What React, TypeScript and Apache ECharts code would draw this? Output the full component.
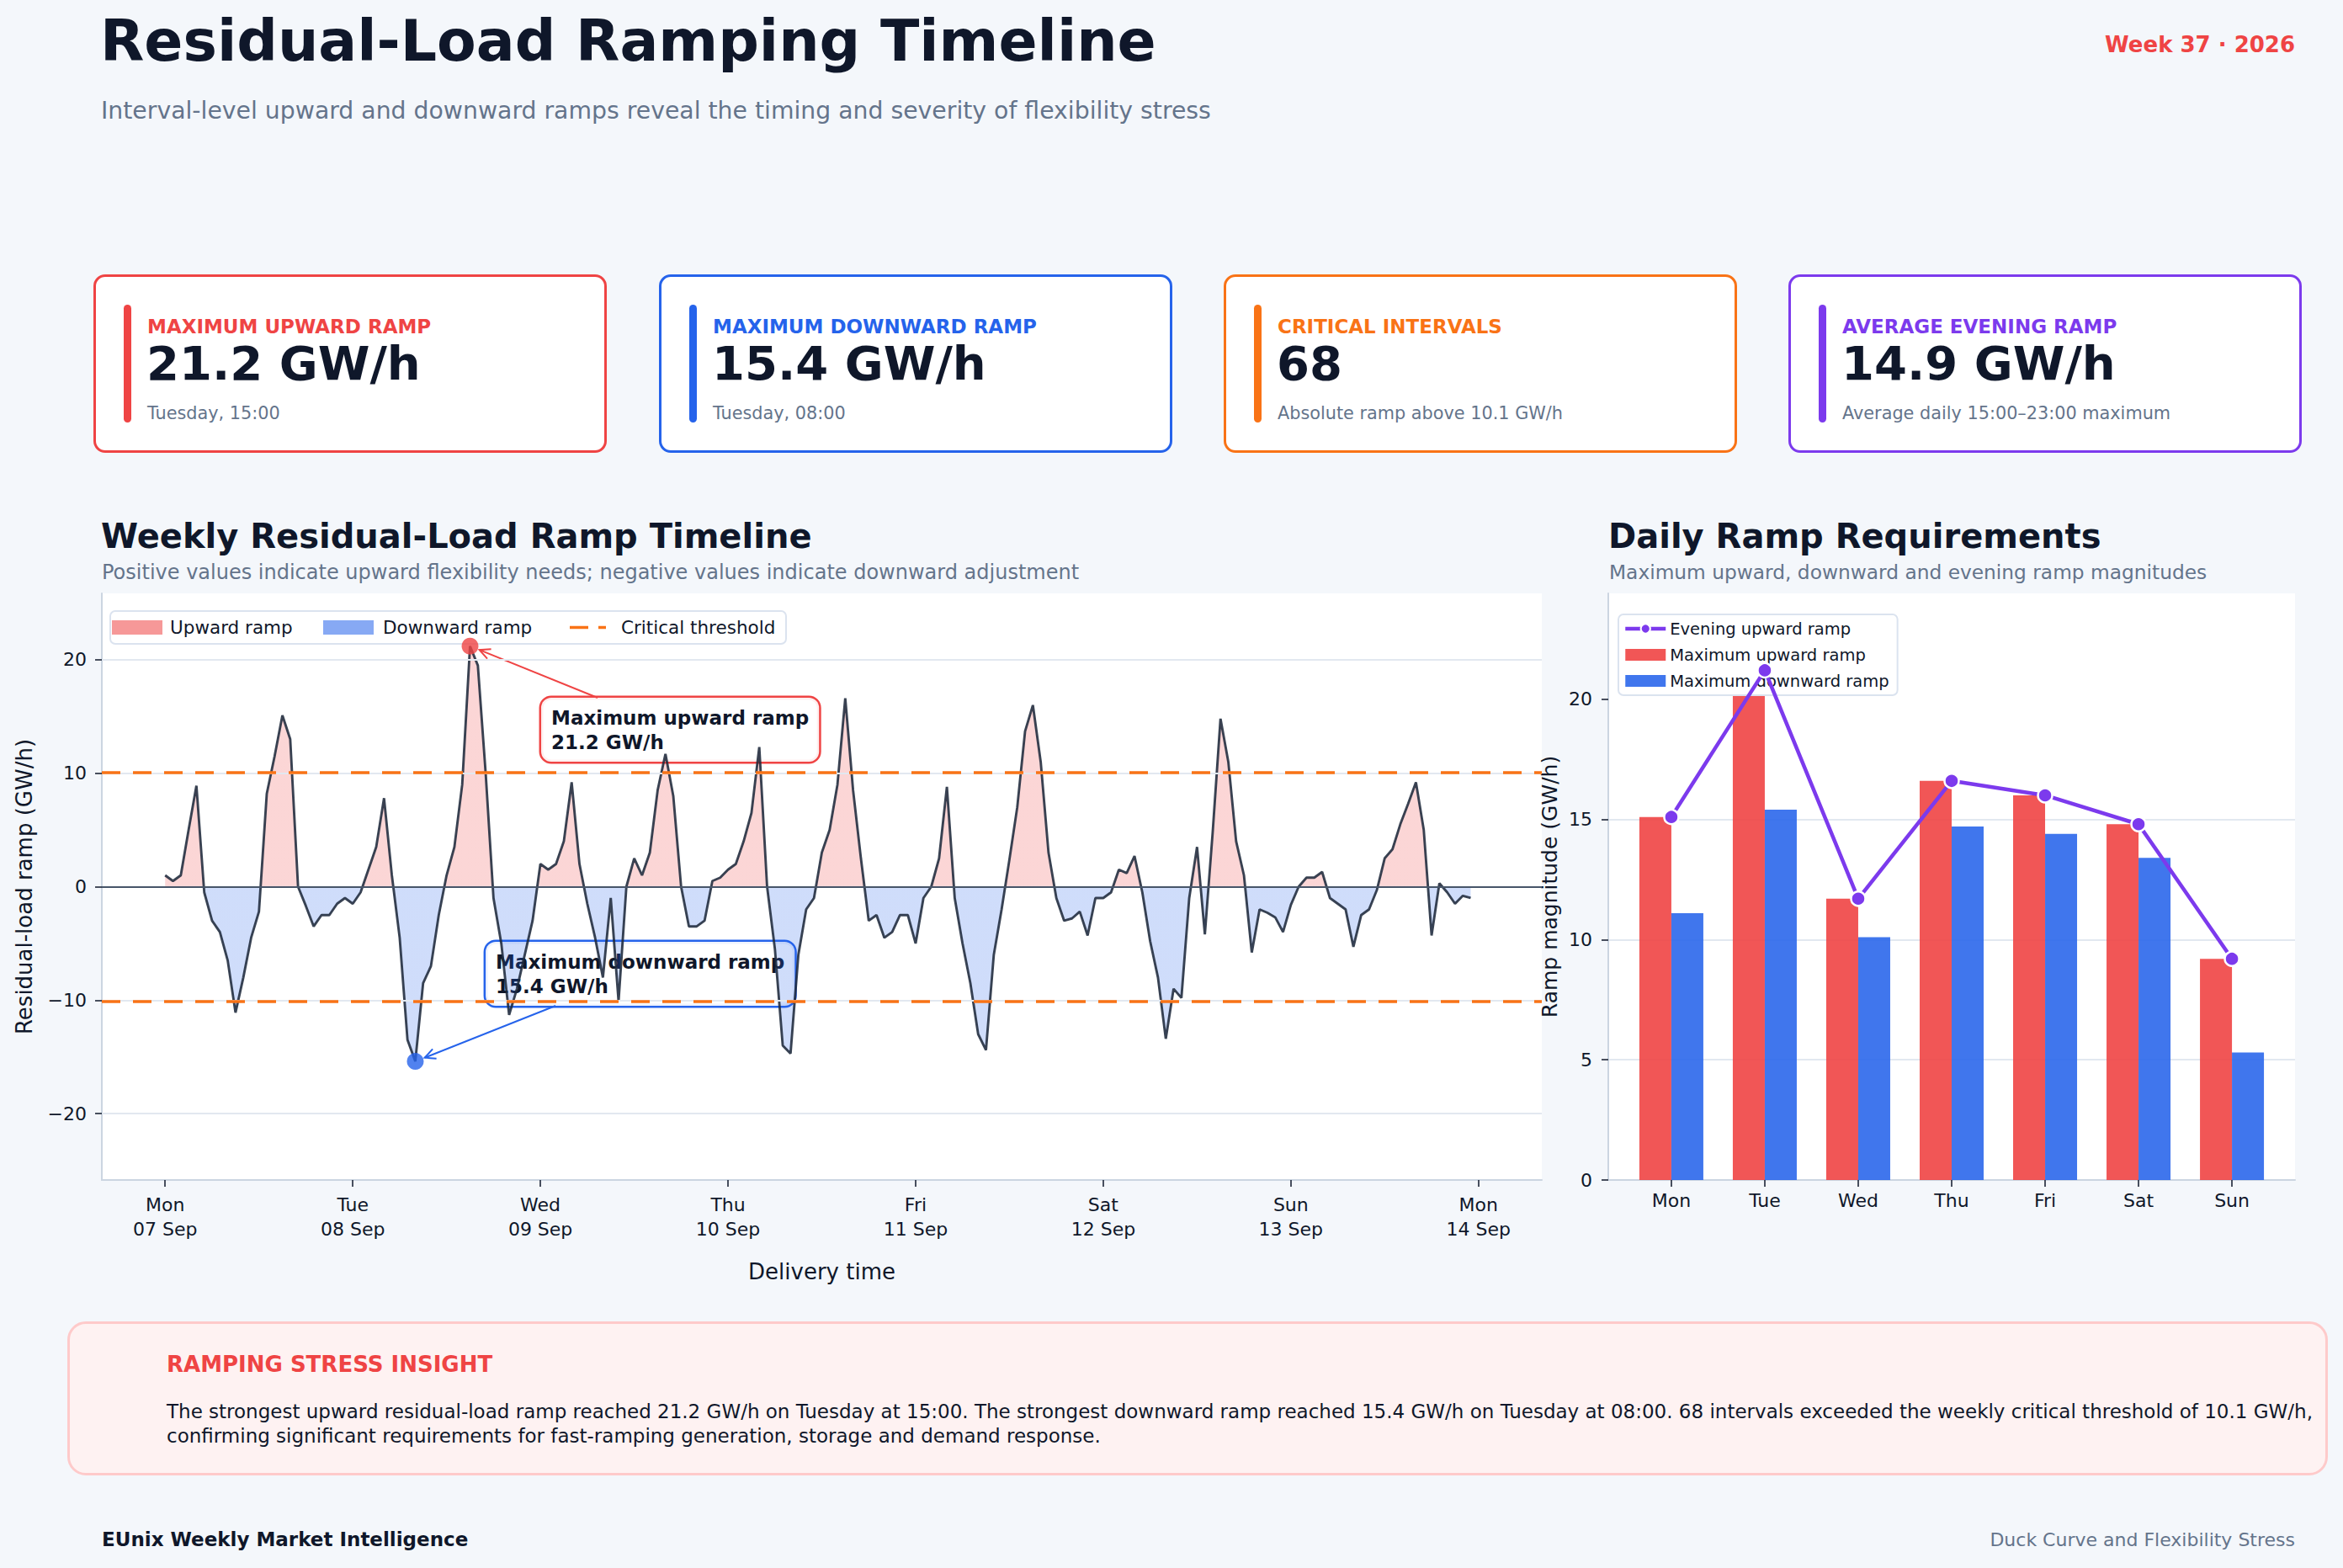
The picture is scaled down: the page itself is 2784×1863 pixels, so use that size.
import React, { useEffect, useRef } from "react";
import * as echarts from "echarts";

// ---------- data ----------
const dayLabels = ["Mon", "Tue", "Wed", "Thu", "Fri", "Sat", "Sun", "Mon"];
const dateLabels = ["07 Sep", "08 Sep", "09 Sep", "10 Sep", "11 Sep", "12 Sep", "13 Sep", "14 Sep"];
const dayTickHours = [0, 24, 48, 72, 96, 120, 144, 168];

// hourly residual-load ramp (GW/h)
const monRamp = [1.0, 0.5, 1.0, 5.0, 8.9, -0.5, -3.0, -4.0, -6.5, -11.1, -8.0, -4.5, -2.2, 8.2, 11.5, 15.1, 13.0, 0.0, -1.7, -3.5, -2.5, -2.5, -1.5, -1.0];
const tueRamp = [-1.5, -0.5, 1.5, 3.5, 7.8, 1.0, -4.5, -13.5, -15.4, -8.5, -7.0, -2.5, 1.0, 3.5, 9.0, 21.2, 19.5, 10.0, -1.0, -5.0, -11.3, -9.0, -6.0, -3.0];
const wedRamp = [2.0, 1.5, 2.0, 4.0, 9.2, 2.0, -1.5, -4.5, -8.0, -1.0, -10.1, 0.0, 2.5, 1.0, 3.0, 8.5, 11.7, 8.0, 0.0, -3.5, -3.5, -3.0, 0.5, 0.8];
const thuRamp = [1.5, 2.0, 4.0, 6.5, 12.3, 0.0, -5.5, -14.0, -14.7, -6.0, -2.0, -1.0, 3.0, 5.0, 9.0, 16.6, 8.5, 2.5, -3.0, -2.5, -4.5, -4.0, -2.5, -2.5];
const friRamp = [-5.0, -1.0, 0.0, 2.5, 8.8, -1.0, -5.0, -8.5, -13.0, -14.4, -6.0, -2.0, 2.4, 7.0, 13.7, 16.0, 11.0, 3.0, -1.0, -3.0, -2.8, -2.2, -4.3, -1.0];
const satRamp = [-1.0, -0.5, 1.5, 1.2, 2.7, -0.5, -4.8, -8.0, -13.4, -9.0, -9.8, -1.0, 3.5, -4.2, 4.8, 14.8, 11.0, 4.0, 1.0, -5.8, -2.0, -2.3, -2.7, -4.0];
const sunRamp = [-1.6, 0.0, 0.8, 0.8, 1.3, -1.0, -1.5, -2.0, -5.3, -2.5, -2.0, -0.3, 2.5, 3.3, 5.5, 7.3, 9.2, 5.0, -4.3, 0.3, -0.5, -1.5, -0.8, -1.0];

const criticalThreshold = 10.1;
const timelineTicks = [-20, -10, 0, 10, 20];

const dailyDays = ["Mon", "Tue", "Wed", "Thu", "Fri", "Sat", "Sun"];
const dailyPositions = [0, 1, 2, 3, 4, 5, 6];
const maxUpward = [15.1, 21.2, 11.7, 16.6, 16.0, 14.8, 9.2];
const maxDownward = [11.1, 15.4, 10.1, 14.7, 14.4, 13.4, 5.3];
const eveningRamp = [15.1, 21.2, 11.7, 16.6, 16.0, 14.8, 9.2];
const dailyTicks = [0, 5, 10, 15, 20];

// annotation text-box anchors (top-left, data units)
const upAnnot = { h: 48.1, v: 16.65 };
const downAnnot = { h: 41.0, v: -4.86 };

const FONT = "'DejaVu Sans', Verdana, sans-serif";
const DARK = "#0f172a";
const MUTED = "#64748b";

const ramp = [...monRamp, ...tueRamp, ...wedRamp, ...thuRamp, ...friRamp, ...satRamp, ...sunRamp];

const minusFmt = (v: number) => (v < 0 ? `\u2212${Math.abs(v)}` : `${v}`);

function Card(props: { left: number; color: string; label: string; value: string; sub: string }) {
  const { left, color, label, value, sub } = props;
  return (
    <div
      style={{
        position: "absolute",
        left,
        top: 326,
        width: 610,
        height: 212,
        boxSizing: "border-box",
        border: `3px solid ${color}`,
        borderRadius: 14,
        background: "#ffffff",
      }}
    >
      <div style={{ position: "absolute", left: 33, top: 33, width: 9, height: 140, borderRadius: 5, background: color }} />
      <div style={{ position: "absolute", left: 61, top: 48, fontSize: 23, lineHeight: "23px", fontWeight: 700, color, whiteSpace: "nowrap" }}>
        {label}
      </div>
      <div style={{ position: "absolute", left: 60, top: 75, fontSize: 56, lineHeight: "56px", fontWeight: 700, color: DARK, whiteSpace: "nowrap" }}>
        {value}
      </div>
      <div style={{ position: "absolute", left: 61, top: 152, fontSize: 20.8, lineHeight: "21px", color: MUTED, whiteSpace: "nowrap" }}>
        {sub}
      </div>
    </div>
  );
}

export default function App() {
  const ref = useRef<HTMLDivElement>(null);

  useEffect(() => {
    if (!ref.current) return;
    const chart = echarts.init(ref.current, undefined, { renderer: "svg" });

    const rampData = ramp.map((v, i) => [i, v]);
    let maxI = 0;
    let minI = 0;
    ramp.forEach((v, i) => {
      if (v > ramp[maxI]) maxI = i;
      if (v < ramp[minI]) minI = i;
    });
    const rMax = ramp[maxI];
    const rMin = ramp[minI];
    const zeroFrac = rMax / (rMax - rMin);
    const fillGradient = new echarts.graphic.LinearGradient(0, 0, 0, 1, [
      { offset: 0, color: "#ef4444" },
      { offset: zeroFrac, color: "#ef4444" },
      { offset: zeroFrac, color: "#2563eb" },
      { offset: 1, color: "#2563eb" },
    ]);

    const dashStyle = { color: "#f97316", width: 3.7, type: [22, 15] as any };
    const gridStyle = { color: "#e2e8f0", width: 2, type: "solid" };

    const option: any = {
      animation: false,
      textStyle: { fontFamily: FONT },
      grid: [
        { left: 121, top: 705, width: 1711, height: 697, show: true, backgroundColor: "#ffffff", borderWidth: 0 },
        { left: 1911, top: 705, width: 816, height: 697, show: true, backgroundColor: "#ffffff", borderWidth: 0 },
      ],
      legend: [
        {
          left: 1923,
          top: 730,
          orient: "vertical",
          itemWidth: 48,
          itemHeight: 14,
          itemGap: 9,
          padding: [6, 10, 6, 6],
          backgroundColor: "#ffffff",
          borderColor: "#dbe3ef",
          borderWidth: 2,
          borderRadius: 6,
          selectedMode: false,
          textStyle: { fontSize: 19.5, lineHeight: 22, color: DARK, fontFamily: FONT },
          data: [
            { name: "Evening upward ramp", lineStyle: { width: 4.5 } },
            { name: "Maximum upward ramp", icon: "rect" },
            { name: "Maximum downward ramp", icon: "rect" },
          ],
        },
      ],
      xAxis: [
        {
          type: "value",
          gridIndex: 0,
          min: -8.1,
          max: 176.1,
          axisLine: { show: true, onZero: false, lineStyle: { color: "#cbd5e1", width: 2 } },
          axisTick: { show: true, customValues: dayTickHours, length: 8, lineStyle: { color: DARK, width: 1.5 } },
          axisLabel: {
            customValues: dayTickHours,
            formatter: (v: number) => {
              const d = Math.round(v / 24);
              return `${dayLabels[d]}\n${dateLabels[d]}`;
            },
            fontSize: 22,
            lineHeight: 29,
            color: DARK,
            margin: 15,
          },
          splitLine: { show: false },
          name: "Delivery time",
          nameLocation: "middle",
          nameGap: 96,
          nameTextStyle: { fontSize: 26, color: DARK },
        },
        {
          type: "value",
          gridIndex: 1,
          min: -0.675,
          max: 6.675,
          axisLine: { show: true, onZero: false, lineStyle: { color: "#cbd5e1", width: 2 } },
          axisTick: { show: true, customValues: dailyPositions, length: 8, lineStyle: { color: DARK, width: 1.5 } },
          axisLabel: {
            customValues: dailyPositions,
            formatter: (v: number) => dailyDays[Math.round(v)],
            fontSize: 22,
            color: DARK,
            margin: 13,
          },
          splitLine: { show: false },
        },
      ],
      yAxis: [
        {
          type: "value",
          gridIndex: 0,
          min: -25.85,
          max: 25.85,
          splitNumber: 5,
          axisLine: { show: true, onZero: false, lineStyle: { color: "#cbd5e1", width: 2 } },
          axisTick: { show: true, customValues: timelineTicks, length: 8, lineStyle: { color: DARK, width: 1.5 } },
          axisLabel: { customValues: timelineTicks, formatter: minusFmt, fontSize: 22, color: DARK, margin: 18 },
          splitLine: { show: false },
          name: "Residual-load ramp (GW/h)",
          nameLocation: "middle",
          nameGap: 79,
          nameTextStyle: { fontSize: 26, color: DARK },
        },
        {
          type: "value",
          gridIndex: 1,
          min: 0,
          max: 24.4,
          interval: 5,
          axisLine: { show: true, onZero: false, lineStyle: { color: "#cbd5e1", width: 2 } },
          axisTick: { show: true, customValues: dailyTicks, length: 8, lineStyle: { color: DARK, width: 1.5 } },
          axisLabel: { customValues: dailyTicks, fontSize: 22, color: DARK, margin: 19 },
          splitLine: { show: true, showMinLine: false, showMaxLine: false, lineStyle: { color: "#e2e8f0", width: 2 } },
          name: "Ramp magnitude (GW/h)",
          nameLocation: "middle",
          nameGap: 57,
          nameTextStyle: { fontSize: 25, color: DARK },
        },
      ],
      series: [
        {
          name: "rampFill",
          type: "line",
          xAxisIndex: 0,
          yAxisIndex: 0,
          data: rampData,
          symbol: "none",
          silent: true,
          lineStyle: { width: 0, opacity: 0 },
          areaStyle: { color: fillGradient, opacity: 0.22, origin: 0 },
          z: 2,
          markLine: {
            silent: true,
            symbol: "none",
            label: { show: false },
            data: timelineTicks.filter((t) => t !== 0).map((t) => ({ yAxis: t, lineStyle: gridStyle })),
          },
        },
        {
          name: "Residual-load ramp",
          type: "line",
          xAxisIndex: 0,
          yAxisIndex: 0,
          data: rampData,
          symbol: "none",
          lineStyle: { color: "#1e293b", width: 2.9, opacity: 0.88 },
          itemStyle: { color: "#1e293b" },
          z: 3,
          markLine: {
            silent: true,
            symbol: "none",
            label: { show: false },
            data: [
              { yAxis: 0, lineStyle: { color: "#475569", width: 1.8, type: "solid" } },
              { yAxis: criticalThreshold, lineStyle: dashStyle },
              { yAxis: -criticalThreshold, lineStyle: dashStyle },
            ],
          },
        },
        {
          name: "maxPoint",
          type: "scatter",
          xAxisIndex: 0,
          yAxisIndex: 0,
          data: [[maxI, rMax]],
          symbolSize: 20,
          itemStyle: { color: "#ef4444" },
          z: 8,
          silent: true,
        },
        {
          name: "minPoint",
          type: "scatter",
          xAxisIndex: 0,
          yAxisIndex: 0,
          data: [[minI, rMin]],
          symbolSize: 20,
          itemStyle: { color: "#2563eb" },
          z: 8,
          silent: true,
        },
        {
          name: "Maximum upward ramp",
          type: "bar",
          xAxisIndex: 1,
          yAxisIndex: 1,
          data: maxUpward.map((v, i) => [dailyPositions[i], v]),
          barWidth: 38,
          barGap: "0%",
          itemStyle: { color: "#ef4444", opacity: 0.9 },
          z: 2,
        },
        {
          name: "Maximum downward ramp",
          type: "bar",
          xAxisIndex: 1,
          yAxisIndex: 1,
          data: maxDownward.map((v, i) => [dailyPositions[i], v]),
          barWidth: 38,
          barGap: "0%",
          itemStyle: { color: "#2563eb", opacity: 0.88 },
          z: 2,
        },
        {
          name: "Evening upward ramp",
          type: "line",
          xAxisIndex: 1,
          yAxisIndex: 1,
          data: eveningRamp.map((v, i) => [dailyPositions[i], v]),
          symbol: "circle",
          symbolSize: 17,
          lineStyle: { color: "#7c3aed", width: 4.5 },
          itemStyle: { color: "#7c3aed", borderColor: "#ffffff", borderWidth: 2.5 },
          z: 5,
        },
      ],
    };

    chart.setOption(option);

    // annotations placed through the axes
    const px = (h: number, v: number) => chart.convertToPixel({ gridIndex: 0 }, [h, v]) as number[];
    const makeArrow = (start: number[], target: number[], color: string) => {
      const dx = target[0] - start[0];
      const dy = target[1] - start[1];
      const len = Math.sqrt(dx * dx + dy * dy) || 1;
      const ux = dx / len;
      const uy = dy / len;
      const end = [target[0] - ux * 12, target[1] - uy * 12];
      const head = (ang: number) => {
        const c = Math.cos(ang);
        const s = Math.sin(ang);
        const bx = -ux * c + uy * s;
        const by = -ux * s - uy * c;
        return [end[0] + bx * 14, end[1] + by * 14];
      };
      return [
        { type: "line", z: 4, shape: { x1: start[0], y1: start[1], x2: end[0], y2: end[1] }, style: { stroke: color, lineWidth: 2 } },
        { type: "polyline", z: 4, shape: { points: [head(0.45), end, head(-0.45)] }, style: { stroke: color, lineWidth: 2, fill: "none" } },
      ];
    };
    const boxStyle = (text: string, color: string) => ({
      text,
      font: `bold 23px ${FONT}`,
      fill: DARK,
      align: "left",
      verticalAlign: "top",
      lineHeight: 29,
      backgroundColor: "rgba(255,255,255,0.92)",
      borderColor: color,
      borderWidth: 2.5,
      borderRadius: 12,
      padding: [9, 12, 9, 12],
    });

    const graphics: any[] = [];
    try {
      const upBox = px(upAnnot.h, upAnnot.v);
      const downBox = px(downAnnot.h, downAnnot.v);
      const upPt = px(maxI, rMax);
      const downPt = px(minI, rMin);
      const boxH = 29 * 2 + 18;
      graphics.push(
        { type: "text", z: 1, x: upBox[0], y: upBox[1], style: boxStyle(`Maximum upward ramp\n${rMax.toFixed(1)} GW/h`, "#ef4444") },
        { type: "text", z: 1, x: downBox[0], y: downBox[1], style: boxStyle(`Maximum downward ramp\n${Math.abs(rMin).toFixed(1)} GW/h`, "#2563eb") },
        ...makeArrow([upBox[0] + 67, upBox[1]], upPt, "#ef4444"),
        ...makeArrow([downBox[0] + 83, downBox[1] + boxH], downPt, "#2563eb")
      );
    } catch (e) {
      // ignore
    }

    // legend of the timeline (drawn as graphic)
    const lgTop = 726;
    const lgMid = lgTop + 19.5;
    const lgFont = `21.5px ${FONT}`;
    graphics.push(
      { type: "rect", z: 6, shape: { x: 131, y: lgTop, width: 803, height: 39, r: 6 }, style: { fill: "#ffffff", stroke: "#dbe3ef", lineWidth: 2 } },
      { type: "rect", z: 7, shape: { x: 133, y: lgMid - 8.5, width: 60, height: 17 }, style: { fill: "rgba(239,68,68,0.55)" } },
      { type: "text", z: 7, x: 202, y: lgMid, style: { text: "Upward ramp", font: lgFont, fill: DARK, verticalAlign: "middle" } },
      { type: "rect", z: 7, shape: { x: 384, y: lgMid - 8.5, width: 60, height: 17 }, style: { fill: "rgba(37,99,235,0.55)" } },
      { type: "text", z: 7, x: 455, y: lgMid, style: { text: "Downward ramp", font: lgFont, fill: DARK, verticalAlign: "middle" } },
      { type: "line", z: 7, shape: { x1: 677, y1: lgMid, x2: 720, y2: lgMid }, style: { stroke: "#f97316", lineWidth: 3.7, lineDash: [22, 12] } },
      { type: "text", z: 7, x: 738, y: lgMid, style: { text: "Critical threshold", font: lgFont, fill: DARK, verticalAlign: "middle" } }
    );

    chart.setOption({ graphic: graphics });

    return () => chart.dispose();
  }, []);

  return (
    <div
      style={{
        position: "absolute",
        left: 0,
        top: 0,
        width: 2784,
        height: 1863,
        background: "#f4f7fb",
        fontFamily: FONT,
        overflow: "hidden",
      }}
    >
      <div ref={ref} style={{ position: "absolute", left: 0, top: 0, width: 2784, height: 1863 }} />

      <div style={{ position: "absolute", left: 119, top: 15, fontSize: 68, lineHeight: "68px", fontWeight: 700, color: DARK, whiteSpace: "nowrap" }}>
        Residual-Load Ramping Timeline
      </div>
      <div style={{ position: "absolute", left: 120, top: 118, fontSize: 28.3, lineHeight: "28px", color: MUTED, whiteSpace: "nowrap" }}>
        Interval-level upward and downward ramps reveal the timing and severity of flexibility stress
      </div>
      <div style={{ position: "absolute", right: 57, top: 40, fontSize: 26, lineHeight: "26px", fontWeight: 700, color: "#ef4444", whiteSpace: "nowrap" }}>
        Week 37 · 2026
      </div>

      <Card left={111} color="#ef4444" label="MAXIMUM UPWARD RAMP" value="21.2 GW/h" sub="Tuesday, 15:00" />
      <Card left={783} color="#2563eb" label="MAXIMUM DOWNWARD RAMP" value="15.4 GW/h" sub="Tuesday, 08:00" />
      <Card left={1454} color="#f97316" label="CRITICAL INTERVALS" value="68" sub="Absolute ramp above 10.1 GW/h" />
      <Card left={2125} color="#7c3aed" label="AVERAGE EVENING RAMP" value="14.9 GW/h" sub="Average daily 15:00–23:00 maximum" />

      <div style={{ position: "absolute", left: 120, top: 617, fontSize: 40, lineHeight: "40px", fontWeight: 700, color: DARK, whiteSpace: "nowrap" }}>
        Weekly Residual-Load Ramp Timeline
      </div>
      <div style={{ position: "absolute", left: 121, top: 668, fontSize: 24, lineHeight: "24px", color: MUTED, whiteSpace: "nowrap" }}>
        Positive values indicate upward flexibility needs; negative values indicate downward adjustment
      </div>
      <div style={{ position: "absolute", left: 1911, top: 617, fontSize: 40, lineHeight: "40px", fontWeight: 700, color: DARK, whiteSpace: "nowrap" }}>
        Daily Ramp Requirements
      </div>
      <div style={{ position: "absolute", left: 1912, top: 668, fontSize: 23.3, lineHeight: "24px", color: MUTED, whiteSpace: "nowrap" }}>
        Maximum upward, downward and evening ramp magnitudes
      </div>

      <div
        style={{
          position: "absolute",
          left: 80,
          top: 1570,
          width: 2686,
          height: 183,
          boxSizing: "border-box",
          border: "3px solid #fecaca",
          borderRadius: 22,
          background: "#fef2f2",
        }}
      >
        <div style={{ position: "absolute", left: 115, top: 35, fontSize: 26, lineHeight: "26px", fontWeight: 700, color: "#ef4444", whiteSpace: "nowrap" }}>
          RAMPING STRESS INSIGHT
        </div>
        <div style={{ position: "absolute", left: 115, top: 90, fontSize: 23, lineHeight: "29px", color: DARK, whiteSpace: "nowrap" }}>
          The strongest upward residual-load ramp reached 21.2 GW/h on Tuesday at 15:00. The strongest downward ramp reached 15.4 GW/h on Tuesday at 08:00. 68 intervals exceeded the weekly critical threshold of 10.1 GW/h,
          <br />
          confirming significant requirements for fast-ramping generation, storage and demand response.
        </div>
      </div>

      <div style={{ position: "absolute", left: 121, top: 1818, fontSize: 23, lineHeight: "23px", fontWeight: 700, color: DARK, whiteSpace: "nowrap" }}>
        EUnix Weekly Market Intelligence
      </div>
      <div style={{ position: "absolute", right: 57, top: 1819, fontSize: 22, lineHeight: "22px", color: MUTED, whiteSpace: "nowrap" }}>
        Duck Curve and Flexibility Stress
      </div>
    </div>
  );
}
